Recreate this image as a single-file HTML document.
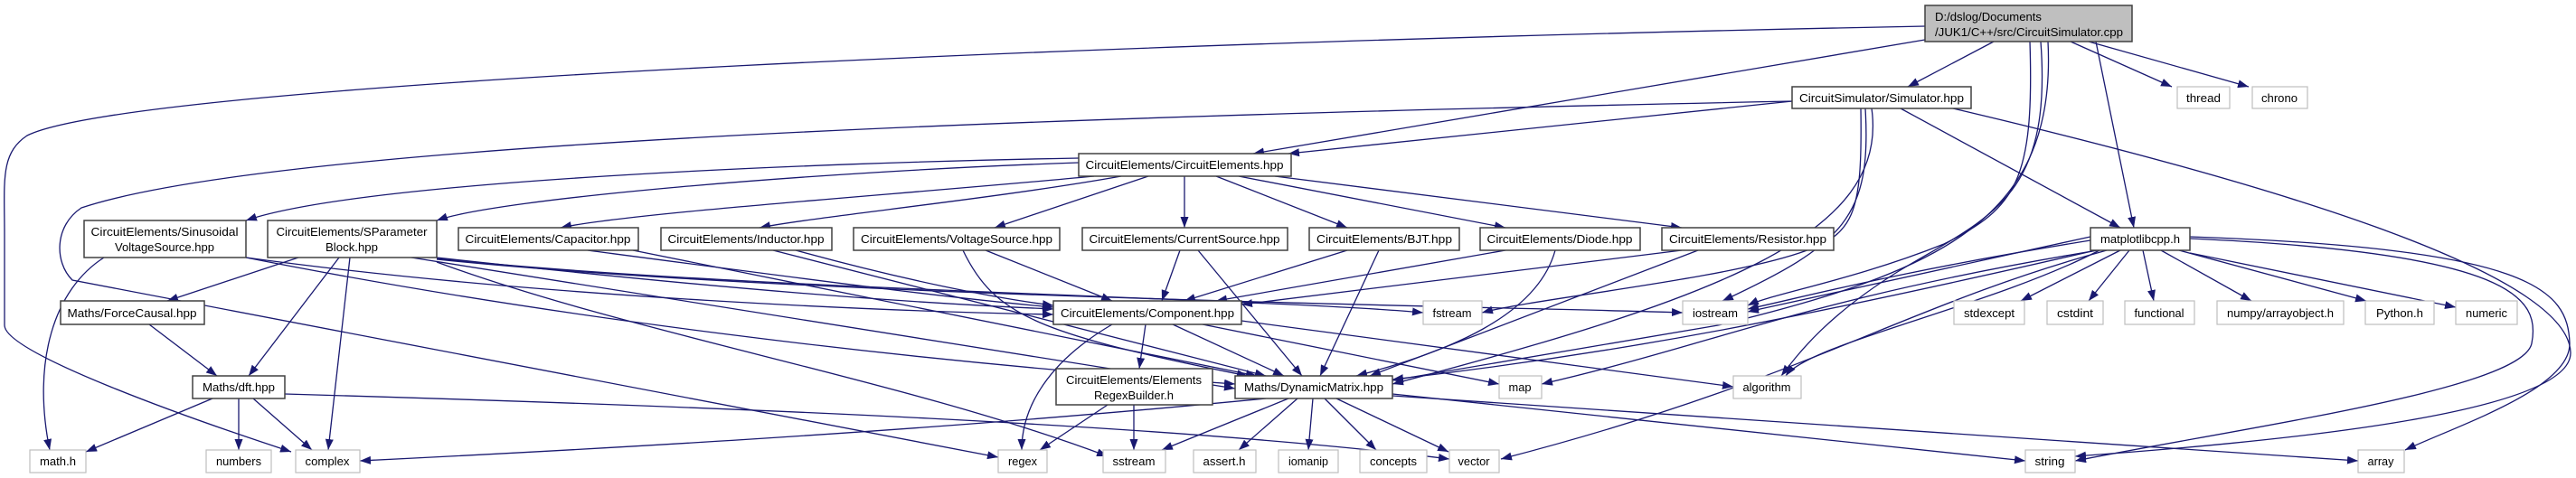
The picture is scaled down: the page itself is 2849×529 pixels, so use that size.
<!DOCTYPE html>
<html><head><meta charset="utf-8"><style>
html,body{margin:0;padding:0;background:#fff;}
svg{display:block;}
text{font-family:"Liberation Sans",sans-serif;font-size:13px;fill:#000;}
.e{fill:none;stroke:#191970;stroke-width:1.3;marker-end:url(#a);}
.n{fill:#fff;stroke:#404040;stroke-width:1.5;}
.s{fill:#fff;stroke:#bfbfbf;stroke-width:1.2;}
</style></head><body>
<svg width="2849" height="529" viewBox="0 0 2849 529" xmlns="http://www.w3.org/2000/svg">
<defs><marker id="a" markerUnits="userSpaceOnUse" markerWidth="13" markerHeight="10" refX="12" refY="4.5" orient="auto"><path d="M0,0 L12,4.5 L0,9 z" fill="#191970"/></marker></defs>
<g>
<path class="e" d="M2129,44 L1386,170"/>
<path class="e" d="M2205,46 L2110,96"/>
<path class="e" d="M2290,46 L2402,96"/>
<path class="e" d="M2310,46 L2487,96"/>
<path class="e" d="M2129,29 C1300,45 150,90 30,150 C0,170 5,200 5,260 L5,360 C5,390 200,460 322,500"/>
<path class="e" d="M2318,46 L2360,252"/>
<path class="e" d="M2245,46 C2250,200 2230,230 2150,270 C2050,310 1960,325 1933,338"/>
<path class="e" d="M2257,46 C2270,220 2200,240 2100,300 C2020,350 1990,390 1970,416"/>
<path class="e" d="M2265,46 C2275,240 2150,300 1900,360 L1540,421"/>
<path class="e" d="M1982,112 L1425,170"/>
<path class="e" d="M1982,112 C1100,130 300,160 90,230 C60,250 60,290 80,310 L1104,506"/>
<path class="e" d="M2058,120 C2060,240 2050,260 1990,280 C1900,310 1700,330 1639,346"/>
<path class="e" d="M2063,120 C2070,240 2040,270 1905,333"/>
<path class="e" d="M2102,120 L2345,252"/>
<path class="e" d="M2070,120 C2090,260 1900,330 1540,425"/>
<path class="e" d="M2160,120 C2500,200 2840,300 2843,390 C2845,460 2500,490 2295,505"/>
<path class="e" d="M1193,175 C900,180 400,200 272,244"/>
<path class="e" d="M1193,180 C900,190 550,220 483,244"/>
<path class="e" d="M1210,195 C1000,215 700,235 620,252"/>
<path class="e" d="M1240,195 C1100,220 900,240 840,252"/>
<path class="e" d="M1270,195 L1100,252"/>
<path class="e" d="M1310,195 L1310,252"/>
<path class="e" d="M1345,195 L1490,252"/>
<path class="e" d="M1370,195 L1665,252"/>
<path class="e" d="M1410,195 L1860,252"/>
<path class="e" d="M115,285 C60,320 35,400 55,498"/>
<path class="e" d="M272,285 C600,330 1000,345 1165,348"/>
<path class="e" d="M272,285 C600,350 1000,400 1366,425"/>
<path class="e" d="M330,285 L185,333"/>
<path class="e" d="M375,285 L275,416"/>
<path class="e" d="M387,285 L363,498"/>
<path class="e" d="M483,285 C800,320 1000,335 1165,342"/>
<path class="e" d="M455,285 L1366,430"/>
<path class="e" d="M483,290 C700,370 1000,420 1225,505"/>
<path class="e" d="M483,286 C800,320 1400,330 1574,346"/>
<path class="e" d="M483,287 C900,330 1700,340 1861,346"/>
<path class="e" d="M650,277 C900,310 1050,330 1165,340"/>
<path class="e" d="M700,277 L1390,416"/>
<path class="e" d="M880,277 C1000,310 1100,330 1165,338"/>
<path class="e" d="M855,277 L1400,416"/>
<path class="e" d="M1090,277 L1230,333"/>
<path class="e" d="M1065,277 C1100,350 1150,370 1380,416"/>
<path class="e" d="M1305,277 L1285,333"/>
<path class="e" d="M1325,277 L1440,416"/>
<path class="e" d="M1490,277 L1310,333"/>
<path class="e" d="M1525,277 L1460,416"/>
<path class="e" d="M1665,277 L1345,333"/>
<path class="e" d="M1720,277 C1700,350 1600,390 1500,416"/>
<path class="e" d="M1860,277 L1373,337"/>
<path class="e" d="M1878,277 L1515,416"/>
<path class="e" d="M2312,262 L1933,345"/>
<path class="e" d="M2312,266 C2100,300 1990,330 1933,342"/>
<path class="e" d="M2345,277 L2235,333"/>
<path class="e" d="M2355,277 L2310,333"/>
<path class="e" d="M2370,277 L2382,333"/>
<path class="e" d="M2390,277 L2490,333"/>
<path class="e" d="M2410,277 L2617,333"/>
<path class="e" d="M2422,280 L2716,340"/>
<path class="e" d="M2320,277 C2000,330 1900,380 1705,425"/>
<path class="e" d="M2330,277 C2100,340 2000,420 1660,508"/>
<path class="e" d="M2318,277 C2000,350 1800,390 1540,420"/>
<path class="e" d="M2322,277 C2200,340 2000,380 1975,416"/>
<path class="e" d="M2422,264 C2780,280 2810,330 2800,380 C2790,430 2500,470 2295,510"/>
<path class="e" d="M2422,262 C2800,275 2840,320 2842,380 C2843,430 2720,470 2660,498"/>
<path class="e" d="M1230,359 C1160,400 1130,450 1130,498"/>
<path class="e" d="M1267,359 L1260,408"/>
<path class="e" d="M1297,359 L1420,416"/>
<path class="e" d="M1330,359 L1658,425"/>
<path class="e" d="M1373,355 L1917,428"/>
<path class="e" d="M1225,448 L1150,498"/>
<path class="e" d="M1254,448 L1254,498"/>
<path class="e" d="M1400,441 C1000,480 600,500 398,510"/>
<path class="e" d="M1425,441 L1285,498"/>
<path class="e" d="M1435,441 L1370,498"/>
<path class="e" d="M1452,441 L1447,498"/>
<path class="e" d="M1465,441 L1522,498"/>
<path class="e" d="M1478,441 L1602,500"/>
<path class="e" d="M1540,436 L2240,510"/>
<path class="e" d="M1540,438 L2608,510"/>
<path class="e" d="M235,441 L95,500"/>
<path class="e" d="M264,441 L264,498"/>
<path class="e" d="M280,441 L345,498"/>
<path class="e" d="M315,436 C800,450 1300,470 1603,508"/>
<path class="e" d="M165,359 L240,416"/>
</g>
<g>
<rect x="2129" y="6" width="229" height="40" fill="#bfbfbf" stroke="#404040" stroke-width="1.5"/>
<text x="2140" y="23" textLength="118" lengthAdjust="spacingAndGlyphs">D:/dslog/Documents</text>
<text x="2140" y="40" textLength="208" lengthAdjust="spacingAndGlyphs">/JUK1/C++/src/CircuitSimulator.cpp</text>

<rect class="n" x="1982" y="96" width="198" height="24"/><text x="2081" y="113" text-anchor="middle" textLength="182" lengthAdjust="spacingAndGlyphs">CircuitSimulator/Simulator.hpp</text>
<rect class="s" x="2408" y="96" width="58" height="24"/><text x="2437" y="113" text-anchor="middle" textLength="38" lengthAdjust="spacingAndGlyphs">thread</text>
<rect class="s" x="2491" y="96" width="61" height="24"/><text x="2521" y="113" text-anchor="middle" textLength="40" lengthAdjust="spacingAndGlyphs">chrono</text>

<rect class="n" x="1193" y="170" width="235" height="25"/><text x="1310" y="187" text-anchor="middle" textLength="219" lengthAdjust="spacingAndGlyphs">CircuitElements/CircuitElements.hpp</text>

<rect class="n" x="93" y="244" width="179" height="41"/><text x="182" y="261" text-anchor="middle" textLength="163" lengthAdjust="spacingAndGlyphs">CircuitElements/Sinusoidal</text><text x="182" y="278" text-anchor="middle" textLength="110" lengthAdjust="spacingAndGlyphs">VoltageSource.hpp</text>
<rect class="n" x="296" y="244" width="187" height="41"/><text x="389" y="261" text-anchor="middle" textLength="167" lengthAdjust="spacingAndGlyphs">CircuitElements/SParameter</text><text x="389" y="278" text-anchor="middle" textLength="58" lengthAdjust="spacingAndGlyphs">Block.hpp</text>
<rect class="n" x="507" y="252" width="199" height="25"/><text x="606" y="269" text-anchor="middle" textLength="183" lengthAdjust="spacingAndGlyphs">CircuitElements/Capacitor.hpp</text>
<rect class="n" x="731" y="252" width="189" height="25"/><text x="825" y="269" text-anchor="middle" textLength="173" lengthAdjust="spacingAndGlyphs">CircuitElements/Inductor.hpp</text>
<rect class="n" x="944" y="252" width="228" height="25"/><text x="1058" y="269" text-anchor="middle" textLength="212" lengthAdjust="spacingAndGlyphs">CircuitElements/VoltageSource.hpp</text>
<rect class="n" x="1197" y="252" width="227" height="25"/><text x="1310" y="269" text-anchor="middle" textLength="211" lengthAdjust="spacingAndGlyphs">CircuitElements/CurrentSource.hpp</text>
<rect class="n" x="1448" y="252" width="166" height="25"/><text x="1531" y="269" text-anchor="middle" textLength="150" lengthAdjust="spacingAndGlyphs">CircuitElements/BJT.hpp</text>
<rect class="n" x="1637" y="252" width="177" height="25"/><text x="1725" y="269" text-anchor="middle" textLength="161" lengthAdjust="spacingAndGlyphs">CircuitElements/Diode.hpp</text>
<rect class="n" x="1838" y="252" width="190" height="25"/><text x="1933" y="269" text-anchor="middle" textLength="174" lengthAdjust="spacingAndGlyphs">CircuitElements/Resistor.hpp</text>
<rect class="n" x="2312" y="252" width="110" height="25"/><text x="2367" y="269" text-anchor="middle" textLength="88" lengthAdjust="spacingAndGlyphs">matplotlibcpp.h</text>

<rect class="n" x="67" y="333" width="159" height="26"/><text x="146" y="351" text-anchor="middle" textLength="143" lengthAdjust="spacingAndGlyphs">Maths/ForceCausal.hpp</text>
<rect class="n" x="1165" y="333" width="208" height="26"/><text x="1269" y="351" text-anchor="middle" textLength="192" lengthAdjust="spacingAndGlyphs">CircuitElements/Component.hpp</text>
<rect class="s" x="1574" y="333" width="65" height="26"/><text x="1606" y="351" text-anchor="middle" textLength="43" lengthAdjust="spacingAndGlyphs">fstream</text>
<rect class="s" x="1861" y="333" width="72" height="26"/><text x="1897" y="351" text-anchor="middle" textLength="50" lengthAdjust="spacingAndGlyphs">iostream</text>
<rect class="s" x="2161" y="333" width="78" height="26"/><text x="2200" y="351" text-anchor="middle" textLength="56" lengthAdjust="spacingAndGlyphs">stdexcept</text>
<rect class="s" x="2264" y="333" width="62" height="26"/><text x="2295" y="351" text-anchor="middle" textLength="40" lengthAdjust="spacingAndGlyphs">cstdint</text>
<rect class="s" x="2350" y="333" width="77" height="26"/><text x="2388" y="351" text-anchor="middle" textLength="55" lengthAdjust="spacingAndGlyphs">functional</text>
<rect class="s" x="2452" y="333" width="140" height="26"/><text x="2522" y="351" text-anchor="middle" textLength="118" lengthAdjust="spacingAndGlyphs">numpy/arrayobject.h</text>
<rect class="s" x="2616" y="333" width="76" height="26"/><text x="2654" y="351" text-anchor="middle" textLength="52" lengthAdjust="spacingAndGlyphs">Python.h</text>
<rect class="s" x="2716" y="333" width="68" height="26"/><text x="2750" y="351" text-anchor="middle" textLength="46" lengthAdjust="spacingAndGlyphs">numeric</text>

<rect class="n" x="213" y="416" width="102" height="25"/><text x="264" y="433" text-anchor="middle" textLength="80" lengthAdjust="spacingAndGlyphs">Maths/dft.hpp</text>
<rect class="n" x="1168" y="408" width="173" height="40"/><text x="1254" y="425" text-anchor="middle" textLength="150" lengthAdjust="spacingAndGlyphs">CircuitElements/Elements</text><text x="1254" y="442" text-anchor="middle" textLength="88" lengthAdjust="spacingAndGlyphs">RegexBuilder.h</text>
<rect class="n" x="1366" y="416" width="174" height="25"/><text x="1453" y="433" text-anchor="middle" textLength="154" lengthAdjust="spacingAndGlyphs">Maths/DynamicMatrix.hpp</text>
<rect class="s" x="1658" y="416" width="47" height="25"/><text x="1681" y="433" text-anchor="middle" textLength="25" lengthAdjust="spacingAndGlyphs">map</text>
<rect class="s" x="1917" y="416" width="75" height="25"/><text x="1954" y="433" text-anchor="middle" textLength="53" lengthAdjust="spacingAndGlyphs">algorithm</text>

<rect class="s" x="33" y="498" width="62" height="25"/><text x="64" y="515" text-anchor="middle" textLength="40" lengthAdjust="spacingAndGlyphs">math.h</text>
<rect class="s" x="228" y="498" width="72" height="25"/><text x="264" y="515" text-anchor="middle" textLength="50" lengthAdjust="spacingAndGlyphs">numbers</text>
<rect class="s" x="327" y="498" width="71" height="25"/><text x="362" y="515" text-anchor="middle" textLength="49" lengthAdjust="spacingAndGlyphs">complex</text>
<rect class="s" x="1104" y="498" width="54" height="25"/><text x="1131" y="515" text-anchor="middle" textLength="32" lengthAdjust="spacingAndGlyphs">regex</text>
<rect class="s" x="1220" y="498" width="69" height="25"/><text x="1254" y="515" text-anchor="middle" textLength="47" lengthAdjust="spacingAndGlyphs">sstream</text>
<rect class="s" x="1320" y="498" width="69" height="25"/><text x="1354" y="515" text-anchor="middle" textLength="47" lengthAdjust="spacingAndGlyphs">assert.h</text>
<rect class="s" x="1414" y="498" width="66" height="25"/><text x="1447" y="515" text-anchor="middle" textLength="44" lengthAdjust="spacingAndGlyphs">iomanip</text>
<rect class="s" x="1504" y="498" width="74" height="25"/><text x="1541" y="515" text-anchor="middle" textLength="52" lengthAdjust="spacingAndGlyphs">concepts</text>
<rect class="s" x="1603" y="498" width="55" height="25"/><text x="1630" y="515" text-anchor="middle" textLength="35" lengthAdjust="spacingAndGlyphs">vector</text>
<rect class="s" x="2240" y="498" width="55" height="25"/><text x="2267" y="515" text-anchor="middle" textLength="33" lengthAdjust="spacingAndGlyphs">string</text>
<rect class="s" x="2608" y="498" width="51" height="25"/><text x="2633" y="515" text-anchor="middle" textLength="29" lengthAdjust="spacingAndGlyphs">array</text>
</g>
</svg>
</body></html>
